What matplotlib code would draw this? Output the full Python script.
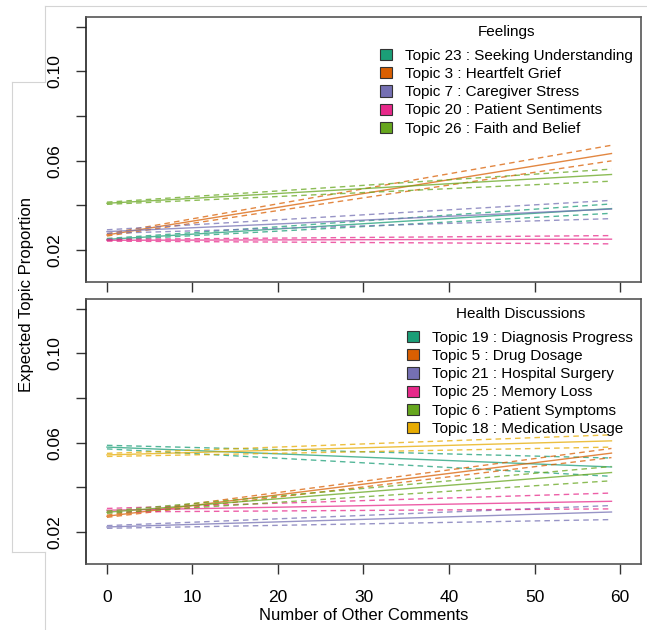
import matplotlib
matplotlib.use('Agg')
import matplotlib.pyplot as plt
from matplotlib.patches import Patch
from matplotlib.lines import Line2D

plt.rcParams['font.family'] = ['Liberation Sans', 'DejaVu Sans']

# number of other comments (start, end of the fitted lines)
comments = [0, 59]

# Feelings panel
feel_labels = ['Topic 23 : Seeking Understanding', 'Topic 3 : Heartfelt Grief',
               'Topic 7 : Caregiver Stress', 'Topic 20 : Patient Sentiments',
               'Topic 26 : Faith and Belief']
feel_colors = ['#1B9E77', '#D95F02', '#7570B3', '#E7298A', '#66A61E']
feel_mean = [[0.0247, 0.0385], [0.0267, 0.0632], [0.0282, 0.0383],
             [0.0243, 0.0248], [0.0409, 0.0538]]
feel_lower = [[0.0243, 0.0364], [0.0262, 0.0599], [0.0274, 0.0340],
              [0.0239, 0.0227], [0.0404, 0.0508]]
feel_upper = [[0.0251, 0.0406], [0.0272, 0.0669], [0.0290, 0.0422],
              [0.0247, 0.0264], [0.0414, 0.0562]]

# Health Discussions panel
health_labels = ['Topic 19 : Diagnosis Progress', 'Topic 5 : Drug Dosage',
                 'Topic 21 : Hospital Surgery', 'Topic 25 : Memory Loss',
                 'Topic 6 : Patient Symptoms', 'Topic 18 : Medication Usage']
health_colors = ['#1B9E77', '#D95F02', '#7570B3', '#E7298A', '#66A61E', '#E6AB02']
health_mean = [[0.0580, 0.0491], [0.0270, 0.0553], [0.0222, 0.0289],
               [0.0297, 0.0337], [0.0288, 0.0466], [0.0545, 0.0608]]
health_lower = [[0.0572, 0.0449], [0.0265, 0.0533], [0.0216, 0.0255],
                [0.0289, 0.0303], [0.0283, 0.0429], [0.0538, 0.0580]]
health_upper = [[0.0588, 0.0531], [0.0275, 0.0574], [0.0228, 0.0318],
                [0.0305, 0.0374], [0.0293, 0.0493], [0.0552, 0.0635]]

yticks = [0.02, 0.04, 0.06, 0.08, 0.10, 0.12]
ytick_labels = ['0.02', '', '0.06', '', '0.10', '']
xticks = [0, 10, 20, 30, 40, 50, 60]

fig = plt.figure(figsize=(6.47, 6.30), dpi=100)
ax1 = fig.add_axes([0.1329, 0.5524, 0.8578, 0.4206])
ax2 = fig.add_axes([0.1329, 0.1048, 0.8578, 0.4206])


def draw_panel(ax, title, labels, colors, mean, lower, upper, show_x):
    for i in range(len(labels)):
        ax.plot(comments, mean[i], color=colors[i], lw=1.0, alpha=0.75)
        ax.plot(comments, lower[i], color=colors[i], lw=1.0, alpha=0.75,
                linestyle=(0, (4, 3)))
        ax.plot(comments, upper[i], color=colors[i], lw=1.0, alpha=0.75,
                linestyle=(0, (4, 3)))
    ax.set_xlim(-2.45, 62.45)
    ax.set_ylim(0.0056, 0.1244)
    ax.set_yticks(yticks)
    ax.set_yticklabels(ytick_labels, rotation=90, va='center', fontsize=12.5)
    ax.set_xticks(xticks)
    if show_x:
        ax.set_xticklabels([str(t) for t in xticks], fontsize=12.5)
    else:
        ax.set_xticklabels([])
    ax.tick_params(axis='y', length=7, width=1, color='#333333', pad=10)
    ax.tick_params(axis='x', length=7, width=1, color='#333333', pad=12)
    for s in ax.spines.values():
        s.set_color('#555555')
        s.set_linewidth(1.2)
    ax.spines['left'].set_color('#222222')
    handles = [Patch(facecolor=c, edgecolor='#333333', linewidth=0.8) for c in colors]
    leg = ax.legend(handles, labels, title=title, loc='upper right',
                    bbox_to_anchor=(1.0, 1.0), frameon=False, fontsize=11,
                    title_fontsize=11, handlelength=0.75, handleheight=0.75,
                    handletextpad=0.9, labelspacing=0.27, borderaxespad=0.2,
                    borderpad=0.3)
    leg._legend_box.align = 'center'
    leg._legend_box.sep = 7.5


draw_panel(ax1, 'Feelings', feel_labels, feel_colors,
           feel_mean, feel_lower, feel_upper, False)
draw_panel(ax2, 'Health Discussions', health_labels, health_colors,
           health_mean, health_lower, health_upper, True)

fig.text(363.5 / 647, 1 - 616 / 630, 'Number of Other Comments',
         ha='center', va='center', fontsize=12)
fig.text(27 / 647, 1 - 295 / 630, 'Expected Topic Proportion',
         ha='center', va='center', rotation=90, fontsize=12)

# light grey frame left over from the screenshot
frame_pts = [(45.5, 6), (647, 6)], [(45.5, 6), (45.5, 82)], [(11.5, 82), (45.5, 82)], \
    [(11.5, 82), (11.5, 552)], [(11.5, 552), (45.5, 552)], [(45.5, 552), (45.5, 630)]
for seg in frame_pts:
    xs = [p[0] / 647 for p in seg]
    ys = [1 - p[1] / 630 for p in seg]
    fig.add_artist(Line2D(xs, ys, color='#d4d4d4', lw=0.8,
                          transform=fig.transFigure))

fig.savefig('out.png', dpi=100)
